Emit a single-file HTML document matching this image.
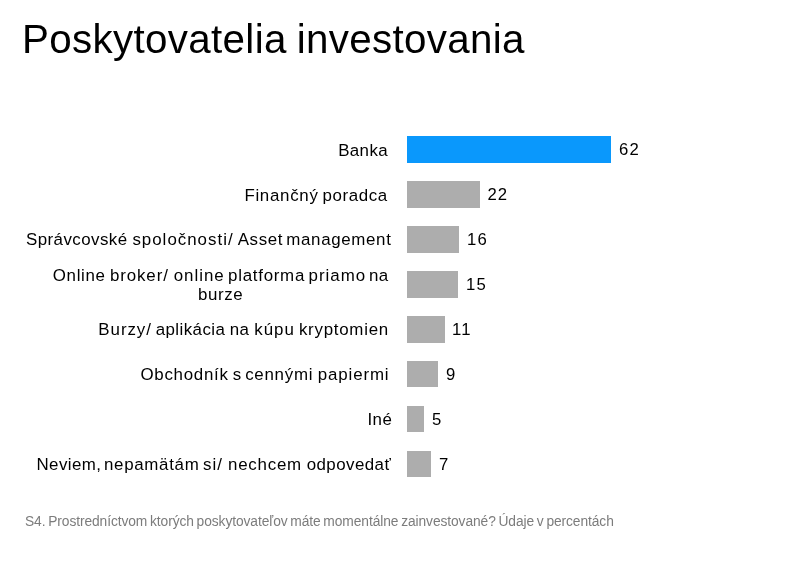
<!DOCTYPE html>
<html lang="sk">
<head>
<meta charset="utf-8">
<title>Poskytovatelia investovania</title>
<style>
  html, body { margin: 0; padding: 0; background: #ffffff; }
  body { width: 795px; height: 574px; position: relative; overflow: hidden;
         font-family: "Liberation Sans", sans-serif; color: #000; }
  .title { position: absolute; left: 22px; top: 17px; font-size: 40.3px; line-height: 46px;
           white-space: nowrap; letter-spacing: 0.35px; word-spacing: -1.6px; }
  .w { position: absolute; font-size: 16.9px; line-height: 18px; white-space: nowrap; }
  .bar { position: absolute; left: 407px; height: 27px; background: #adadad; }
  .bar.blue { background: #0a98fc; }
  .val { position: absolute; font-size: 16.7px; line-height: 18px; white-space: nowrap; letter-spacing: 1.2px; }
  .foot { position: absolute; left: 25px; top: 513.6px; font-size: 13.8px; line-height: 16px; color: #7c7c7c; white-space: nowrap; letter-spacing: -0.09px; word-spacing: -1px;
         transform: scaleY(1.05); transform-origin: 0 13px; }
</style>
</head>
<body>
<div class="title">Poskytovatelia investovania</div>

<div class="bar blue" style="top:136px;width:204px"></div>
<div class="bar" style="top:181px;width:73px"></div>
<div class="bar" style="top:226px;width:52px"></div>
<div class="bar" style="top:271px;width:51px"></div>
<div class="bar" style="top:316px;width:38px"></div>
<div class="bar" style="top:361px;width:31px;height:26px"></div>
<div class="bar" style="top:406px;width:17px;height:26px"></div>
<div class="bar" style="top:451px;width:24px;height:26px"></div>

<span class="w" style="left:338.2px;top:142.0px;letter-spacing:0.38px">Banka</span>
<span class="w" style="left:244.4px;top:187.0px;letter-spacing:0.70px">Finančný</span>
<span class="w" style="left:322.5px;top:187.0px;letter-spacing:0.62px">poradca</span>
<span class="w" style="left:26.0px;top:231.0px;letter-spacing:0.44px">Správcovské</span>
<span class="w" style="left:132.4px;top:231.0px;letter-spacing:1.00px">spoločnosti/</span>
<span class="w" style="left:237.7px;top:231.0px;letter-spacing:0.65px">Asset</span>
<span class="w" style="left:286.3px;top:231.0px;letter-spacing:0.66px">management</span>
<span class="w" style="left:52.8px;top:266.6px;letter-spacing:0.66px">Online</span>
<span class="w" style="left:109.9px;top:266.6px;letter-spacing:0.90px">broker/</span>
<span class="w" style="left:173.7px;top:266.6px;letter-spacing:1.00px">online</span>
<span class="w" style="left:228.0px;top:266.6px;letter-spacing:0.74px">platforma</span>
<span class="w" style="left:308.6px;top:266.6px;letter-spacing:1.00px">priamo</span>
<span class="w" style="left:369.1px;top:266.6px;letter-spacing:0.30px">na</span>
<span class="w" style="left:198.0px;top:285.8px;letter-spacing:0.60px">burze</span>
<span class="w" style="left:98.3px;top:321.0px;letter-spacing:0.96px">Burzy/</span>
<span class="w" style="left:155.7px;top:321.0px;letter-spacing:0.43px">aplikácia</span>
<span class="w" style="left:229.8px;top:321.0px;letter-spacing:0.30px">na</span>
<span class="w" style="left:254.2px;top:321.0px;letter-spacing:1.00px">kúpu</span>
<span class="w" style="left:298.9px;top:321.0px;letter-spacing:0.74px">kryptomien</span>
<span class="w" style="left:140.5px;top:366.0px;letter-spacing:0.71px">Obchodník</span>
<span class="w" style="left:232.7px;top:366.0px;letter-spacing:0.00px">s</span>
<span class="w" style="left:245.2px;top:366.0px;letter-spacing:0.73px">cennými</span>
<span class="w" style="left:317.8px;top:366.0px;letter-spacing:0.86px">papiermi</span>
<span class="w" style="left:367.5px;top:411.0px;letter-spacing:0.40px">Iné</span>
<span class="w" style="left:36.5px;top:456.0px;letter-spacing:0.40px">Neviem,</span>
<span class="w" style="left:104.0px;top:456.0px;letter-spacing:0.69px">nepamätám</span>
<span class="w" style="left:203.1px;top:456.0px;letter-spacing:1.00px">si/</span>
<span class="w" style="left:228.0px;top:456.0px;letter-spacing:0.77px">nechcem</span>
<span class="w" style="left:306.7px;top:456.0px;letter-spacing:0.44px">odpovedať</span>

<div class="val" style="left:619px;top:141px">62</div>
<div class="val" style="left:487.4px;top:186px">22</div>
<div class="val" style="left:467px;top:231px">16</div>
<div class="val" style="left:466px;top:276px">15</div>
<div class="val" style="left:452px;top:321px">11</div>
<div class="val" style="left:446px;top:366px">9</div>
<div class="val" style="left:432px;top:411px">5</div>
<div class="val" style="left:439px;top:456px">7</div>

<div class="foot">S4. Prostredníctvom ktorých poskytovateľov máte momentálne zainvestované? Údaje v percentách</div>
</body>
</html>
